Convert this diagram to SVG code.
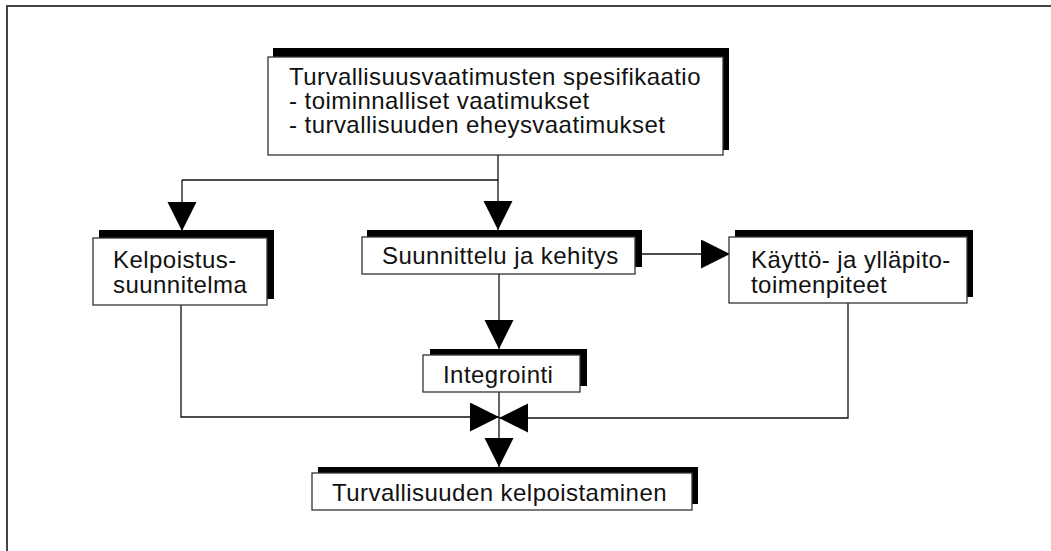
<svg xmlns="http://www.w3.org/2000/svg" width="1051" height="551" viewBox="0 0 1051 551">
  <style>
    .box { fill: #ffffff; stroke: #333333; stroke-width: 1.3; }
    .shadow { fill: #000000; }
    .label { font-family: "Liberation Sans", Arial, sans-serif; font-size: 24px; letter-spacing: 0.45px; fill: #111111; }
    .wire { fill: none; stroke: #111111; stroke-width: 1.3; }
    .frame { fill: none; stroke: #444444; stroke-width: 2; }
  </style>
  <defs>
    <marker id="head" markerUnits="userSpaceOnUse" markerWidth="30" markerHeight="30" refX="29" refY="14.5" orient="auto">
      <path d="M0,0 L29,14.5 L0,29 Z" fill="#000000"/>
    </marker>
  </defs>

  <rect width="1051" height="551" fill="#ffffff"/>
  <!-- outer frame, open to the right and bottom -->
  <path class="frame" d="M7,560 V6 H1060"/>

  <!-- connectors -->
  <g id="connectors">
    <path class="wire" d="M498,155 V180 H182"/>
    <path class="wire" d="M182,180 V231" marker-end="url(#head)"/>
    <path class="wire" d="M498,180 V230" marker-end="url(#head)"/>
    <path class="wire" d="M642,254 H730" marker-end="url(#head)"/>
    <path class="wire" d="M499,274 V349" marker-end="url(#head)"/>
    <path class="wire" d="M181,305 V417 H499" marker-end="url(#head)"/>
    <path class="wire" d="M848,303 V418 H499" marker-end="url(#head)"/>
    <path class="wire" d="M499,392 V467" marker-end="url(#head)"/>
  </g>

  <!-- safety requirements specification -->
  <g id="spec">
    <rect class="shadow" x="273" y="48" width="456" height="102"/>
    <rect class="box" x="268" y="57" width="455" height="98"/>
    <text class="label" x="289" y="85">Turvallisuusvaatimusten spesifikaatio</text>
    <text class="label" x="289" y="109">- toiminnalliset vaatimukset</text>
    <text class="label" x="289" y="133">- turvallisuuden eheysvaatimukset</text>
  </g>

  <!-- validation plan -->
  <g id="plan">
    <rect class="shadow" x="99" y="230" width="175" height="69"/>
    <rect class="box" x="93" y="238" width="174" height="67"/>
    <text class="label" x="113" y="268">Kelpoistus-</text>
    <text class="label" x="113" y="293">suunnitelma</text>
  </g>

  <!-- design and development -->
  <g id="design">
    <rect class="shadow" x="367" y="230" width="275" height="37"/>
    <rect class="box" x="362" y="237" width="273" height="37"/>
    <text class="label" x="382" y="264">Suunnittelu ja kehitys</text>
  </g>

  <!-- operation and maintenance -->
  <g id="operation">
    <rect class="shadow" x="735" y="230" width="238" height="67"/>
    <rect class="box" x="729" y="237" width="238" height="66"/>
    <text class="label" x="751" y="268">Käyttö- ja ylläpito-</text>
    <text class="label" x="751" y="293">toimenpiteet</text>
  </g>

  <!-- integration -->
  <g id="integration">
    <rect class="shadow" x="430" y="349" width="157" height="37"/>
    <rect class="box" x="423" y="355" width="157" height="37"/>
    <text class="label" x="443" y="383">Integrointi</text>
  </g>

  <!-- safety validation -->
  <g id="validation">
    <rect class="shadow" x="318" y="467" width="380" height="37"/>
    <rect class="box" x="312" y="473" width="380" height="37"/>
    <text class="label" x="332" y="501">Turvallisuuden kelpoistaminen</text>
  </g>
</svg>
